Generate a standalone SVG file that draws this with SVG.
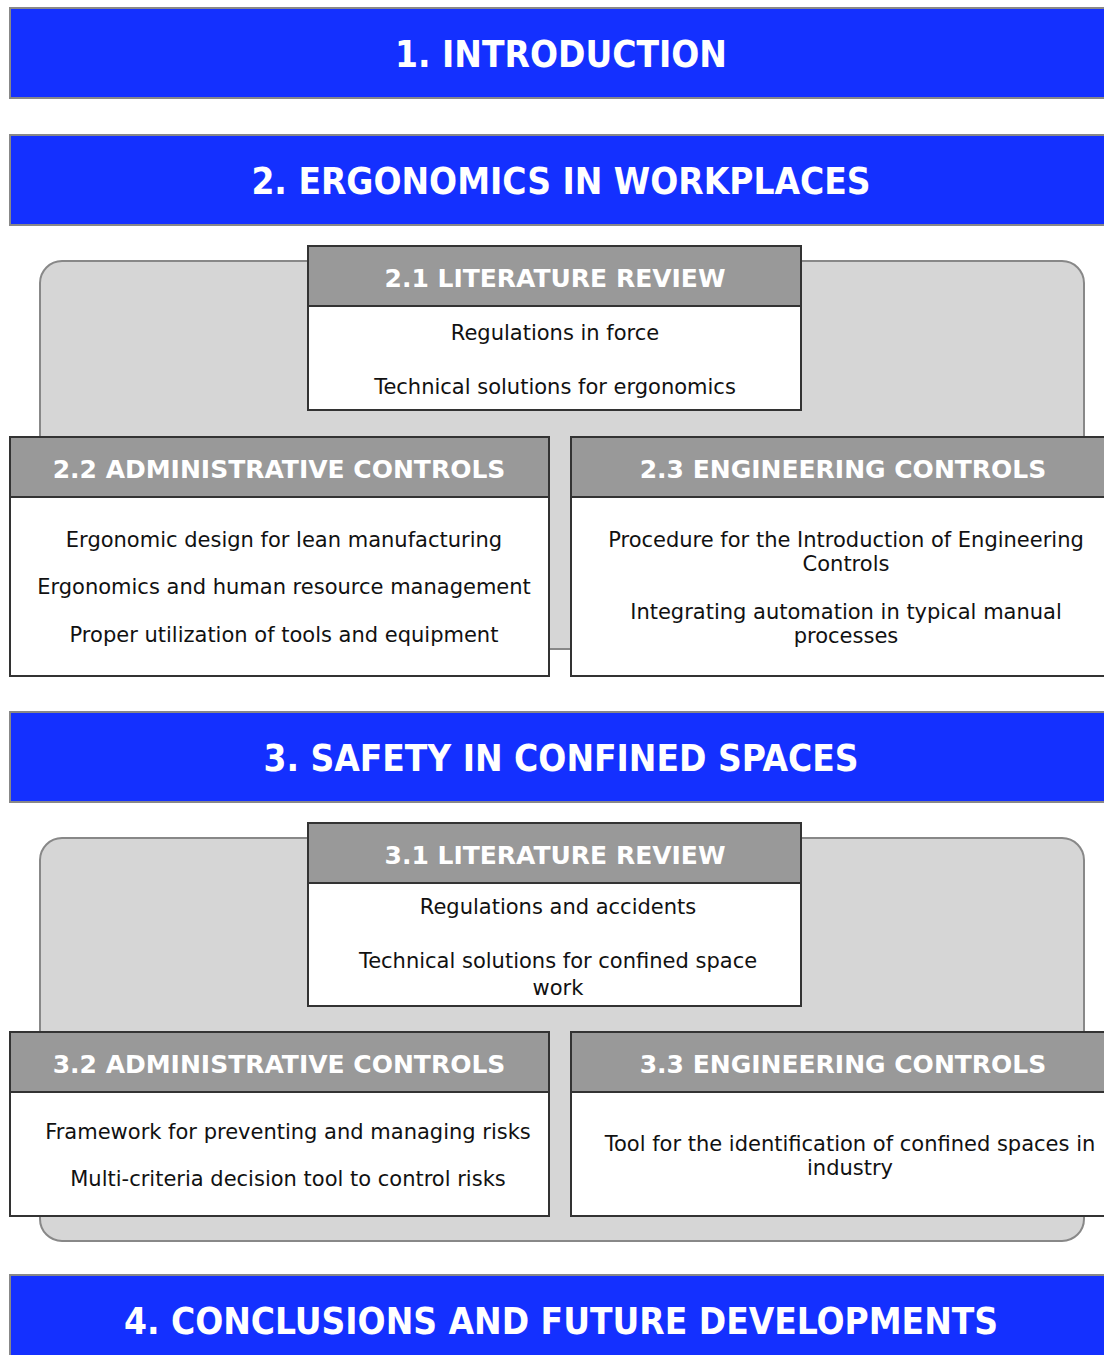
<svg xmlns="http://www.w3.org/2000/svg" width="1104" height="1355" viewBox="0 0 1104 1355">
<style>
.banner{fill:#1430FF;stroke:#888888;stroke-width:2}
.btxt{font-family:"DejaVu Sans Condensed","DejaVu Sans",Verdana,sans-serif;font-stretch:condensed;font-weight:bold;font-size:36.7px;fill:#ffffff;text-anchor:middle}
.area{fill:#D6D6D6;stroke:#888888;stroke-width:2}
.hdr{fill:#999999;stroke:#333333;stroke-width:2}
.body{fill:#ffffff;stroke:#333333;stroke-width:2}
.htxt{font-family:"DejaVu Sans",Verdana,sans-serif;font-weight:bold;font-size:25px;fill:#ffffff;text-anchor:middle}
.t{font-family:"DejaVu Sans",Verdana,sans-serif;font-size:21px;fill:#111111;text-anchor:middle}
</style>
<rect width="1104" height="1355" fill="#ffffff"/>
<g id="connectors"></g>
<g id="sec1"><rect class="banner" x="10" y="8" width="1104" height="90"/><text class="btxt" x="561" y="67">1. INTRODUCTION</text></g>
<g id="sec2"><rect class="banner" x="10" y="135" width="1104" height="90"/><text class="btxt" x="561" y="194">2. ERGONOMICS IN WORKPLACES</text></g>
<g id="area2"><rect class="area" x="40" y="261" width="1044" height="388" rx="22" ry="22"/></g>
<g id="n21">
<rect class="body" x="308" y="246" width="493" height="164"/>
<rect class="hdr" x="308" y="246" width="493" height="60"/>
<text class="htxt" x="555" y="287">2.1 LITERATURE REVIEW</text>
<text class="t" x="555" y="340">Regulations in force</text>
<text class="t" x="555" y="394">Technical solutions for ergonomics</text>
</g>
<g id="n22">
<rect class="body" x="10" y="437" width="539" height="239"/>
<rect class="hdr" x="10" y="437" width="539" height="60"/>
<text class="htxt" x="279" y="478">2.2 ADMINISTRATIVE CONTROLS</text>
<text class="t" x="284" y="547">Ergonomic design for lean manufacturing</text>
<text class="t" x="284" y="594">Ergonomics and human resource management</text>
<text class="t" x="284" y="642">Proper utilization of tools and equipment</text>
</g>
<g id="n23">
<rect class="body" x="571" y="437" width="545" height="239"/>
<rect class="hdr" x="571" y="437" width="545" height="60"/>
<text class="htxt" x="843" y="478">2.3 ENGINEERING CONTROLS</text>
<text class="t" x="846" y="547">Procedure for the Introduction of Engineering</text>
<text class="t" x="846" y="571">Controls</text>
<text class="t" x="846" y="619">Integrating automation in typical manual</text>
<text class="t" x="846" y="643">processes</text>
</g>
<g id="sec3"><rect class="banner" x="10" y="712" width="1104" height="90"/><text class="btxt" x="561" y="771">3. SAFETY IN CONFINED SPACES</text></g>
<g id="area3"><rect class="area" x="40" y="838" width="1044" height="403" rx="22" ry="22"/></g>
<g id="n31">
<rect class="body" x="308" y="823" width="493" height="183"/>
<rect class="hdr" x="308" y="823" width="493" height="60"/>
<text class="htxt" x="555" y="864">3.1 LITERATURE REVIEW</text>
<text class="t" x="558" y="914">Regulations and accidents</text>
<text class="t" x="558" y="968">Technical solutions for confined space</text>
<text class="t" x="558" y="995">work</text>
</g>
<g id="n32">
<rect class="body" x="10" y="1032" width="539" height="184"/>
<rect class="hdr" x="10" y="1032" width="539" height="60"/>
<text class="htxt" x="279" y="1073">3.2 ADMINISTRATIVE CONTROLS</text>
<text class="t" x="288" y="1139">Framework for preventing and managing risks</text>
<text class="t" x="288" y="1186">Multi-criteria decision tool to control risks</text>
</g>
<g id="n33">
<rect class="body" x="571" y="1032" width="545" height="184"/>
<rect class="hdr" x="571" y="1032" width="545" height="60"/>
<text class="htxt" x="843" y="1073">3.3 ENGINEERING CONTROLS</text>
<text class="t" x="850" y="1151">Tool for the identification of confined spaces in</text>
<text class="t" x="850" y="1175">industry</text>
</g>
<g id="sec4"><rect class="banner" x="10" y="1275" width="1104" height="90"/><text class="btxt" x="561" y="1334">4. CONCLUSIONS AND FUTURE DEVELOPMENTS</text></g>
</svg>
